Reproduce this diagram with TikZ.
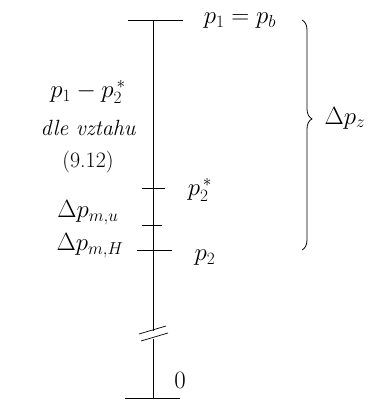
\documentclass[tikz,border=0pt]{standalone}
\usetikzlibrary{decorations.pathreplacing}

\tikzset{
  lbl/.style={inner sep=1pt, font=\fontsize{26}{30}\selectfont},
  txt/.style={inner sep=1pt, font=\fontsize{22}{26}\selectfont},
  tick/.style={line width=0.9pt},
}

\begin{document}
\begin{tikzpicture}[x=1pt,y=1pt]
\useasboundingbox (0,0) rectangle (376,401);
% axis points
\coordinate (top) at (153,381);
\coordinate (pstar) at (153,213);
\coordinate (mu) at (153,176);
\coordinate (ptwo) at (153,151);
\coordinate (brkA) at (153,70);
\coordinate (brkB) at (153,62);
\coordinate (bot) at (153,3);
\draw[line width=0.8pt] (top) -- (brkA);
\draw[line width=0.8pt] (brkB) -- (bot);
% ticks
\draw[tick] (128,381) -- (183,381);
\draw[tick] (142,213) -- (165,213);
\draw[tick] (142,176) -- (162,176);
\draw[tick] (137,151) -- (172,151);
\draw[tick] (125,3) -- (180,3);
\draw[line width=0.7pt] (139,67) -- (166,75);
\draw[line width=0.7pt] (141,60) -- (168,68);
% labels
\node[lbl] (pone) at (240,380) {$p_1 = p_b$};
\node[lbl] (diff) at (88,309) {$p_1 - p_2^{\,*}$};
\node[txt] (dle) at (88,273) {\itshape dle vztahu};
\node[txt] (rel) at (88,239) {(9.12)};
\node[lbl] (ptwostar) at (200,211) {$p_2^{\,*}$};
\node[lbl] (dpmu) at (88,188) {$\Delta p_{m,u}$};
\node[lbl] (dpmh) at (90,155) {$\Delta p_{m,H}$};
\node[lbl] (ptwolbl) at (205,143) {$p_2$};
\node[lbl] (zero) at (180,21) {$0$};
% brace
\draw[line width=0.8pt, decorate, decoration={brace, amplitude=10pt, aspect=0.43}]
  (302,381) -- (302,151);
\node[lbl] (dpz) at (345,283) {$\Delta p_z$};
\end{tikzpicture}
\end{document}
